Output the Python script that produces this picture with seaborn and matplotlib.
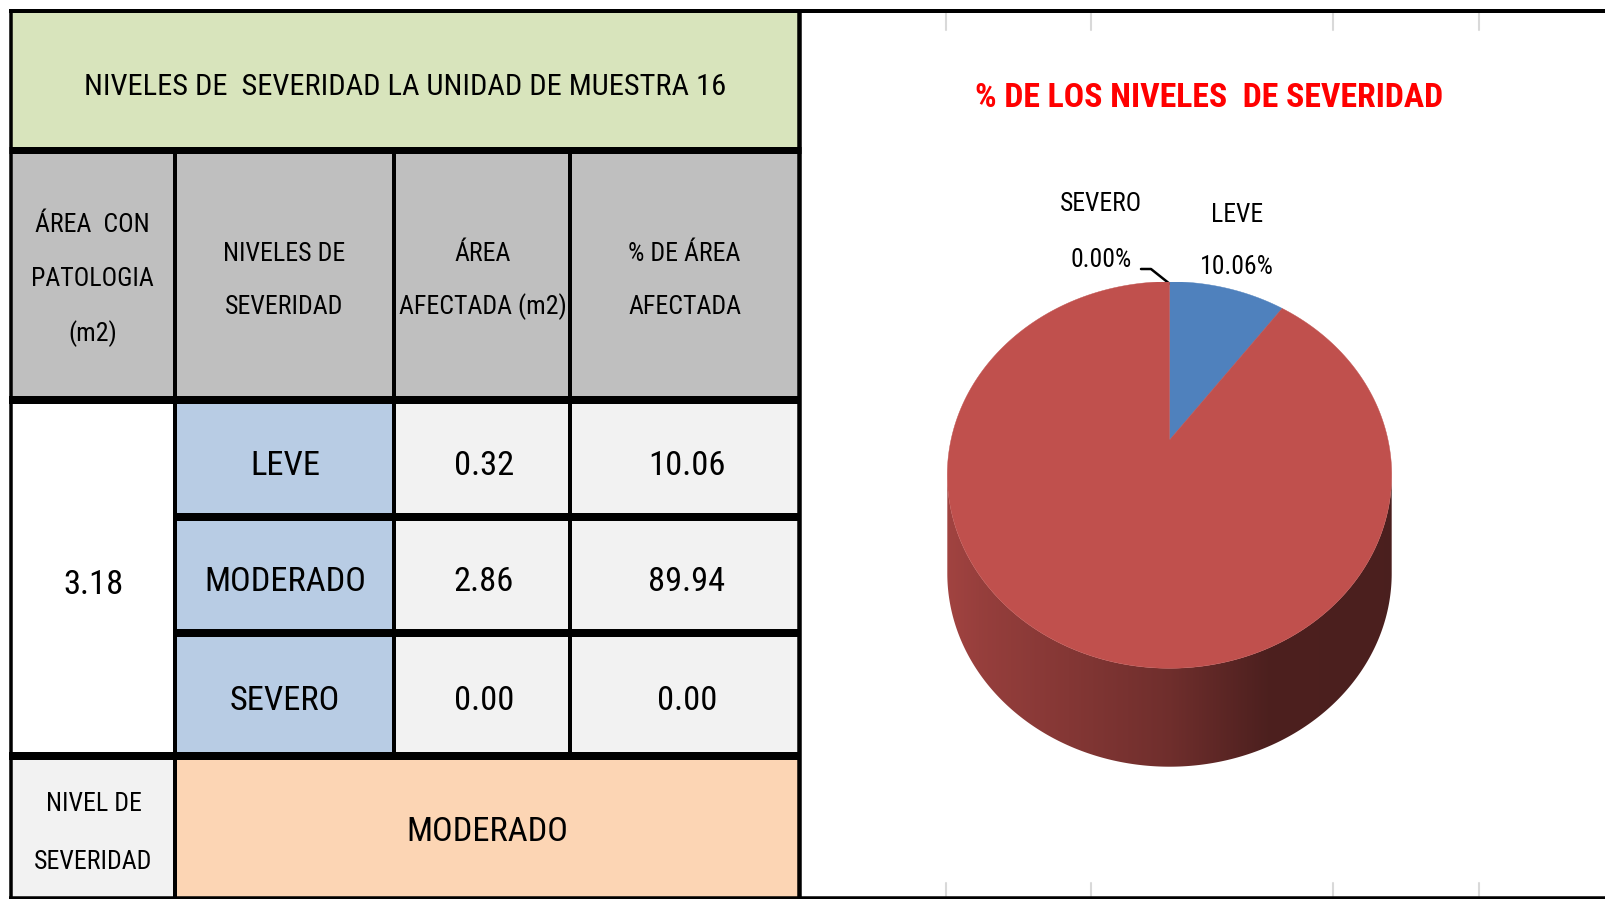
import numpy as np
import matplotlib
matplotlib.use("Agg")
import matplotlib.pyplot as plt
import seaborn as sns
from matplotlib import font_manager as fm
from matplotlib.font_manager import FontProperties
from matplotlib.patches import Rectangle, Polygon

# ---------------- data ----------------
table_title = "NIVELES DE  SEVERIDAD LA UNIDAD DE MUESTRA 16"
header_labels = [["ÁREA  CON", "PATOLOGIA", "(m2)"],
                 ["NIVELES DE", "SEVERIDAD"],
                 ["ÁREA", "AFECTADA (m2)"],
                 ["% DE ÁREA", "AFECTADA"]]
total_area = 3.18
levels = ["LEVE", "MODERADO", "SEVERO"]
affected_area = [0.32, 2.86, 0.00]
affected_pct = [10.06, 89.94, 0.00]
overall_label = ["NIVEL DE", "SEVERIDAD"]
overall_level = "MODERADO"
chart_title = "% DE LOS NIVELES  DE SEVERIDAD"
level_colors = ["#4f81bd", "#c0504d", "#9bbb59"]

# ---------------- style ----------------
sns.set_theme(style="white")
plt.rcParams["font.family"] = ["DejaVu Sans"]
plt.rcParams["text.color"] = "black"
palette = sns.color_palette(level_colors)

W, H = 1606, 899
fig = plt.figure(figsize=(W / 100, H / 100), dpi=100)
fig.patch.set_facecolor("white")
ax = fig.add_axes([0, 0, 1, 1])
ax.set_xlim(0, W)
ax.set_ylim(H, 0)
ax.axis("off")
rend = fig.canvas.get_renderer()


def text_width(s, fp):
    t = ax.text(0, 0, s, fontproperties=fp)
    w = t.get_window_extent(renderer=rend).width
    t.remove()
    return w


# pick the narrowest installed Latin sans face for the condensed labels
BASES = ("DejaVu Sans", "Liberation Sans", "Noto Sans", "Roboto", "Open Sans", "Lato", "Inter")
EXACT = {"DejaVu Sans", "Liberation Sans", "Liberation Sans Narrow", "Noto Sans", "Roboto",
         "Roboto Condensed", "Open Sans", "Open Sans Condensed", "Lato", "Inter"}


def usable(f):
    if f.style != "normal":
        return False
    if not f.fname.lower().endswith((".ttf", ".otf")):
        return False
    if f.name in EXACT:
        return True
    low = f.name.lower()
    return f.name.startswith(BASES) and ("condensed" in low or "narrow" in low)


reg = [f for f in fm.fontManager.ttflist if usable(f) and f.weight == 400]
best, best_w = None, 1e9
for f in reg:
    try:
        w = text_width("MODERADO 89.94%", FontProperties(fname=f.fname, size=20))
    except Exception:
        continue
    if w < best_w:
        best, best_w = f, w

if best is not None:
    REG = FontProperties(fname=best.fname)
    bold = [f for f in fm.fontManager.ttflist
            if usable(f) and f.name == best.name and f.stretch == best.stretch and f.weight >= 600]
    BOLD = FontProperties(fname=sorted(bold, key=lambda f: abs(f.weight - 700))[0].fname) if bold \
        else FontProperties(family=best.name, weight="bold", stretch=best.stretch)
else:
    REG = FontProperties(family="DejaVu Sans", stretch="condensed")
    BOLD = FontProperties(family="DejaVu Sans", stretch="condensed", weight="bold")

CAP = 0.72


def fit(s, target_w, fp):
    f = fp.copy()
    f.set_size(20)
    return 20 * target_w / text_width(s, f)


def put(s, x, yc, fs, fp=REG, color="black"):
    f = fp.copy()
    f.set_size(fs)
    ax.text(x, yc + CAP * fs * 100 / 72 / 2, s, ha="center", va="baseline",
            fontproperties=f, color=color, zorder=5)


def hline(y, x0, x1, px):
    ax.plot([x0, x1], [y, y], color="black", lw=px * 0.72,
            solid_capstyle="butt", zorder=4)


def vline(x, y0, y1, px):
    ax.plot([x, x], [y0, y1], color="black", lw=px * 0.72,
            solid_capstyle="butt", zorder=4)


# ---------------- table ----------------
xs = [11, 175, 394, 570, 799]
y_top, y_hdr, y_data, y_r1, y_r2, y_bot, y_end = 11, 149.5, 400, 517, 632.5, 756, 897.5

cells = [
    (xs[0], y_top, xs[4], y_hdr, "#d8e4bc"),
    (xs[0], y_hdr, xs[4], y_data, "#bfbfbf"),
    (xs[0], y_data, xs[1], y_bot, "#ffffff"),
    (xs[1], y_data, xs[2], y_bot, "#b8cce4"),
    (xs[2], y_data, xs[4], y_bot, "#f2f2f2"),
    (xs[0], y_bot, xs[1], y_end, "#f2f2f2"),
    (xs[1], y_bot, xs[4], y_end, "#fcd5b4"),
]
for x0, y0, x1, y1, c in cells:
    ax.add_patch(Rectangle((x0, y0), x1 - x0, y1 - y0, facecolor=c, edgecolor="none", zorder=1))

hline(11, 9, W, 4)
hline(897.5, 9, W, 3.5)
vline(10.75, 9, H, 3.5)
vline(799, 9, H, 4.5)
hline(y_hdr, 9, 801, 7)
hline(y_data, 9, 801, 8)
hline(y_r1, 173, 801, 8)
hline(y_r2, 173, 801, 8)
hline(y_bot, 9, 801, 8)
vline(xs[1], y_hdr, y_end, 4)
vline(xs[2], y_hdr, y_bot, 4)
vline(xs[3], y_hdr, y_bot, 4)

fs_head = fit(table_title, 640, REG)
fs_hdr = min(fit("AFECTADA (m2)", 168, REG), fit("PATOLOGIA", 150, REG))
fs_cell = fit("MODERADO", 162, REG)

put(table_title, 405, 84.5, fs_head)

hdr_x = [92.5, 284.5, 483, 684.5]
hdr_y = [[223, 277, 332], [251.5, 305], [251.5, 305], [251.5, 305]]
for lines, x, ys in zip(header_labels, hdr_x, hdr_y):
    for s, y in zip(lines, ys):
        put(s, x, y, fs_hdr)

row_y = [463, 579, 698]
put(f"{total_area:.2f}", 94, 581.5, fs_cell)
for name, area, pct, y in zip(levels, affected_area, affected_pct, row_y):
    put(name, 285, y, fs_cell)
    put(f"{area:.2f}", 484, y, fs_cell)
    put(f"{pct:.2f}", 687, y, fs_cell)

put(overall_label[0], 93.5, 801.5, fs_hdr)
put(overall_label[1], 93, 860, fs_hdr)
put(overall_level, 487, 829, fs_cell)

# faint chart-area gridline ticks
for gx in [946, 1091, 1333, 1479]:
    ax.plot([gx, gx], [13, 30], color="#d9d9d9", lw=1.5, zorder=2)
    ax.plot([gx, gx], [883, 896], color="#d9d9d9", lw=1.5, zorder=2)

# ---------------- 3-D style pie ----------------
TILT = 0.181
DEPTH = 0.509
px0, px1, py0, py1 = 947.3, 1391.7, 281.7, 766.7
pax = fig.add_axes([px0 / W, (H - py1) / H, (px1 - px0) / W, (py1 - py0) / H])


def tilt(x, y, a=TILT):
    den = 1 + a * y
    return x * np.sqrt(1 - a * a) / den, (y + a) / den


wedges, _ = pax.pie(affected_pct, colors=palette, startangle=90, counterclock=False,
                    radius=1, center=(0, 0), wedgeprops=dict(linewidth=0))
pax.set_aspect("auto")
pax.set_xlim(-1, 1)
pax.set_ylim(-1 - DEPTH, 1)
pax.axis("off")

spans = []
for w in wedges:
    t1, t2 = w.theta1, w.theta2
    fc = w.get_facecolor()
    spans.append((t1, t2, fc))
    w.remove()
    if t2 - t1 < 1e-6:
        continue
    th = np.radians(np.linspace(t1, t2, 240))
    xx = np.concatenate([[0], np.cos(th)])
    yy = np.concatenate([[0], np.sin(th)])
    tx, ty = tilt(xx, yy)
    pax.add_patch(Polygon(np.column_stack([tx, ty]), closed=True, facecolor=fc,
                          edgecolor=fc, lw=0.3, zorder=3))

# side wall of the cylinder, shaded left to right
t = np.linspace(np.pi, 2 * np.pi, 300)
upper = np.column_stack([np.cos(t), np.sin(t)])
lower = upper[::-1] - np.array([0, DEPTH])
side = Polygon(np.vstack([upper, lower]), closed=True, facecolor="none", edgecolor="none")
pax.add_patch(side)

ncol = 400
gx = np.linspace(-1, 1, ncol)
gy = -np.sqrt(np.clip(1 - gx ** 2, 0, 1))
ox, oy = tilt(gx, gy, -TILT)
ang = np.degrees(np.arctan2(oy, ox))
u = (gx + 1) / 2
shade = np.interp(u, [0, 0.08, 0.5, 0.72, 1.0], [0.84, 0.78, 0.58, 0.40, 0.39])
img = np.zeros((1, ncol, 3))
for i, a in enumerate(ang):
    col = spans[1][2]
    for t1, t2, fc in spans:
        if t2 - t1 < 1e-6:
            continue
        if (a - t1) % 360 <= (t2 - t1):
            col = fc
            break
    img[0, i] = np.array(col[:3]) * shade[i]
im = pax.imshow(img, extent=(-1, 1, -1 - DEPTH, 0.05), aspect="auto",
                interpolation="bilinear", zorder=2)
im.set_clip_path(side)

# ---------------- chart labels ----------------
fs_lab = min(fit("SEVERO", 82, REG), fit("MODERADO", 135, REG))
fs_title = fit(chart_title, 470, BOLD)
put(chart_title, 1209, 95, fs_title, fp=BOLD, color="#ff0000")

lab_pos = {"LEVE": ((1237, 212.5), (1237, 265)),
           "MODERADO": ((1162, 501), (1162, 555)),
           "SEVERO": ((1101, 201.7), (1101, 258))}
for name, pct in zip(levels, affected_pct):
    (x1, y1), (x2, y2) = lab_pos[name]
    put(name, x1, y1, fs_lab)
    put(f"{pct:.2f}%", x2, y2, fs_lab)

# leader line for the zero slice
sev = spans[2]
ax_x, ax_y = tilt(np.cos(np.radians(sev[0])), np.sin(np.radians(sev[0])))
disp = pax.transData.transform((ax_x, ax_y))
anc = ax.transData.inverted().transform(disp)
ax.plot([1141, 1151, anc[0]], [269, 269, anc[1] + 2], color="black", lw=1.8, zorder=6)

fig.savefig("out.png", dpi=100, facecolor="white")
